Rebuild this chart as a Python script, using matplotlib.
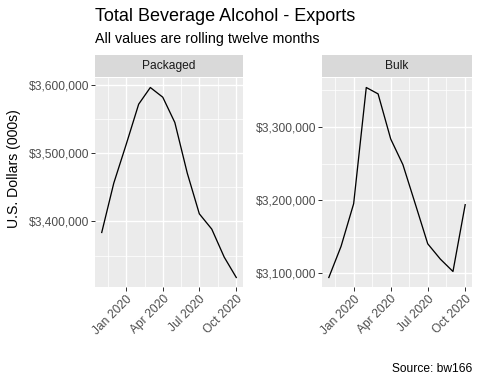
import matplotlib
matplotlib.use('Agg')
import matplotlib.pyplot as plt
import matplotlib.dates as mdates
import matplotlib.ticker as mticker
import numpy as np

plt.rcParams['font.family'] = ['Liberation Sans', 'DejaVu Sans']

months = ['2019-11-01', '2019-12-01', '2020-01-01', '2020-02-01', '2020-03-01', '2020-04-01',
          '2020-05-01', '2020-06-01', '2020-07-01', '2020-08-01', '2020-09-01', '2020-10-01']
packaged = [3383900, 3456100, 3513000, 3571700, 3596100, 3581900,
            3544900, 3470700, 3411200, 3388800, 3347800, 3318000]
bulk = [3094500, 3136900, 3195200, 3353800, 3345100, 3283600,
        3248500, 3193900, 3140500, 3119600, 3102700, 3193900]
panels = ['Packaged', 'Bulk']
series = [packaged, bulk]
x_breaks = ['2020-01-01', '2020-04-01', '2020-07-01', '2020-10-01']
y_breaks = [[3400000, 3500000, 3600000], [3100000, 3200000, 3300000]]

W, H = 480, 384
fig = plt.figure(figsize=(W / 72, H / 72), dpi=72)

dates = mdates.datestr2num(months)
xb = mdates.datestr2num(x_breaks)
x_minor = (xb[:-1] + xb[1:]) / 2
x_minor = np.concatenate([[xb[0] - (xb[1] - xb[0]) / 2], x_minor])

def px(x0, x1, ytop, ybot):
    return [x0 / W, 1 - ybot / H, (x1 - x0) / W, (ybot - ytop) / H]

lefts = [(95, 243), (322, 472)]
for (x0, x1), name, vals, yb in zip(lefts, panels, series, y_breaks):
    ax = fig.add_axes(px(x0, x1, 78, 287))
    ax.set_facecolor('#EBEBEB')
    for s in ax.spines.values():
        s.set_visible(False)
    ax.plot(dates, vals, color='black', lw=1.3, zorder=3)
    ax.set_xticks(xb)
    ax.set_xticks(x_minor, minor=True)
    ax.xaxis.set_major_formatter(mdates.DateFormatter('%b %Y'))
    ax.set_yticks(yb)
    ym = [yb[0] - 50000] + [v + 50000 for v in yb]
    ax.set_yticks(ym, minor=True)
    ax.yaxis.set_major_formatter(mticker.FuncFormatter(lambda v, p: '${:,.0f}'.format(v)))
    span = dates[-1] - dates[0]
    ax.set_xlim(dates[0] - 0.05 * span, dates[-1] + 0.05 * span)
    lo, hi = min(vals), max(vals)
    ax.set_ylim(lo - 0.05 * (hi - lo), hi + 0.05 * (hi - lo))
    ax.grid(which='major', color='white', lw=1.4, zorder=0)
    ax.grid(which='minor', color='white', lw=0.7, zorder=0)
    ax.set_axisbelow(True)
    ax.tick_params(which='major', length=3.6, width=1.0, color='#333333',
                   labelsize=12, labelcolor='#4D4D4D', pad=2.5)
    ax.tick_params(which='minor', length=0)
    for lab in ax.get_xticklabels():
        lab.set_rotation(45)
        lab.set_ha('right')
        lab.set_va('top')
        lab.set_rotation_mode('anchor')
    sx = fig.add_axes(px(x0, x1, 55, 77))
    sx.set_facecolor('#D9D9D9')
    sx.set_xticks([])
    sx.set_yticks([])
    for s in sx.spines.values():
        s.set_visible(False)
    sx.text(0.5, 0.5, name, ha='center', va='center', fontsize=12, color='#1A1A1A',
            transform=sx.transAxes)

fig.text(95 / W, 1 - 21 / H, 'Total Beverage Alcohol - Exports', fontsize=18,
         ha='left', va='baseline')
fig.text(95 / W, 1 - 43 / H, 'All values are rolling twelve months', fontsize=14.3,
         ha='left', va='baseline')
fig.text(14 / W, 1 - 169 / H, 'U.S. Dollars (000s)', fontsize=14, rotation=90,
         ha='center', va='center')
fig.text(472 / W, 1 - 372 / H, 'Source: bw166', fontsize=12, ha='right', va='baseline')

fig.savefig('out.png', dpi=72)
